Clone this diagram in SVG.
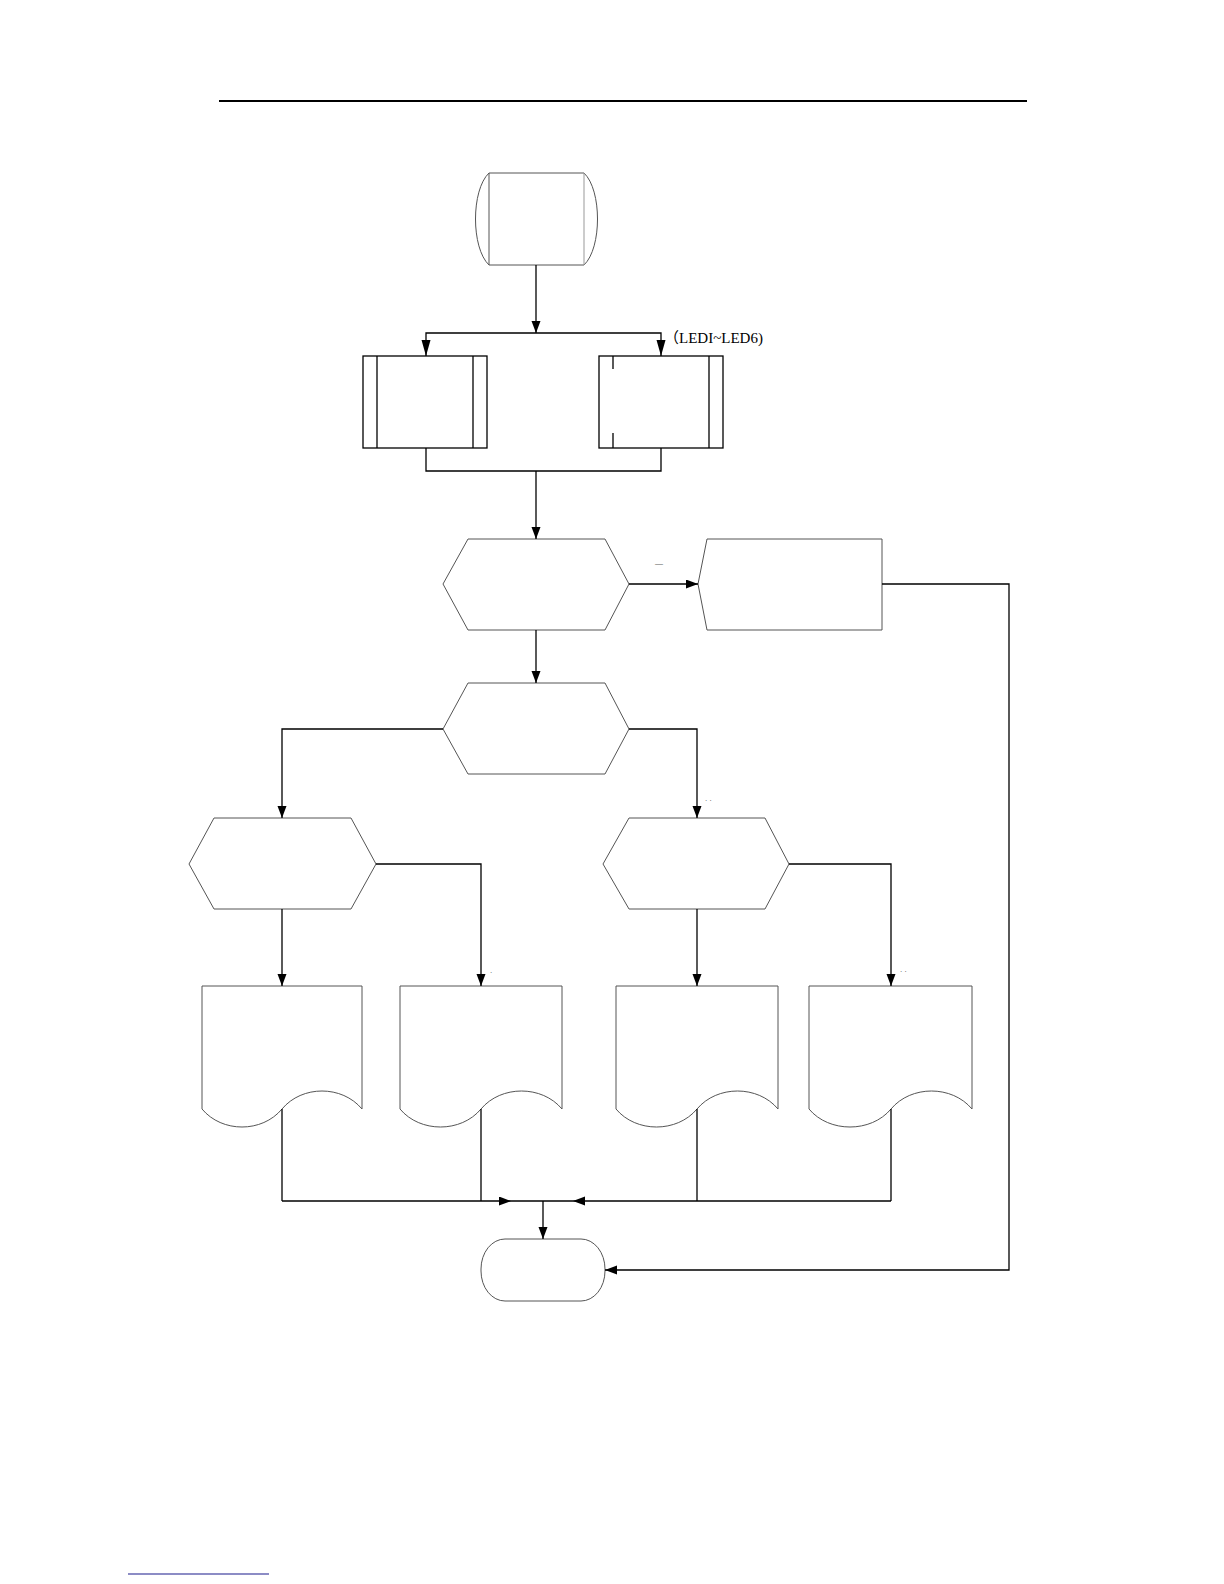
<svg xmlns="http://www.w3.org/2000/svg" width="1224" height="1584" viewBox="0 0 1224 1584">
<style>
.shape{fill:#fff;stroke:#555;stroke-width:1}
.box{fill:#fff;stroke:#000;stroke-width:1.3}
.conn{fill:none;stroke:#000;stroke-width:1.3}
.lbl{font-family:"Liberation Serif","Noto Sans CJK SC",serif;font-size:15px;fill:#000}
.cjk{font-family:"Noto Sans CJK SC","Liberation Serif",serif}
.tiny{font-family:"Liberation Sans",sans-serif;font-size:8px;fill:#555}
</style>
<defs>
<marker id="arr" markerUnits="userSpaceOnUse" markerWidth="12" markerHeight="10" refX="12" refY="4.5" orient="auto"><path d="M0,0 L12,4.5 L0,9 Z" fill="#000"/></marker>
<marker id="arrL" markerUnits="userSpaceOnUse" markerWidth="16" markerHeight="10" refX="16" refY="4.5" orient="auto"><path d="M0,0 L16,4.5 L0,9 Z" fill="#000"/></marker>
</defs>
<rect width="1224" height="1584" fill="#fff"/>
<line x1="219" y1="101" x2="1027" y2="101" stroke="#000" stroke-width="2"/>
<line x1="128" y1="1574" x2="269" y2="1574" stroke="#1a1a8c" stroke-width="1.2"/>

<g id="start">
<path class="shape" d="M489,173 H584 C602,190 602,248 584,265 H489 C471,248 471,190 489,173 Z"/>
<line x1="489" y1="173" x2="489" y2="265" stroke="#555" stroke-width="1"/>
<line x1="584" y1="173" x2="584" y2="265" stroke="#999" stroke-width="1"/>
</g>
<g id="proc-left">
<rect class="box" x="363" y="356" width="124" height="92"/>
<line x1="377" y1="356" x2="377" y2="448" stroke="#000" stroke-width="1.3"/>
<line x1="473" y1="356" x2="473" y2="448" stroke="#000" stroke-width="1.3"/>
</g>
<g id="proc-right">
<rect class="box" x="599" y="356" width="124" height="92"/>
<line x1="613" y1="356" x2="613" y2="369" stroke="#000" stroke-width="1.3"/>
<line x1="613" y1="433" x2="613" y2="448" stroke="#000" stroke-width="1.3"/>
<line x1="709" y1="356" x2="709" y2="448" stroke="#000" stroke-width="1.3"/>
</g>
<text class="lbl" x="664" y="343"><tspan class="cjk">（</tspan>LEDI~LED6)</text>
<g id="dec1"><polygon class="shape" points="443,584 468,539 605,539 629,584 605,630 468,630"/></g>
<g id="disp"><polygon class="shape" points="707,539 882,539 882,630 707,630 698,584"/></g>
<g id="dec2"><polygon class="shape" points="443,729 468,683 605,683 629,729 605,774 468,774"/></g>
<g id="dec3"><polygon class="shape" points="189,864 214,818 351,818 376,864 351,909 214,909"/></g>
<g id="dec4"><polygon class="shape" points="603,864 629,818 765,818 789,864 765,909 629,909"/></g>
<g id="doc1"><path class="shape" d="M202,986 H362 V1109 C342,1085 302,1085 282,1109 C262,1133 222,1133 202,1109 Z"/></g>
<g id="doc2"><path class="shape" d="M400,986 H562 V1109 C542,1085 501,1085 481,1109 C461,1133 420,1133 400,1109 Z"/></g>
<g id="doc3"><path class="shape" d="M616,986 H778 V1109 C758,1085 717,1085 697,1109 C677,1133 636,1133 616,1109 Z"/></g>
<g id="doc4"><path class="shape" d="M809,986 H972 V1109 C952,1085 911,1085 891,1109 C871,1133 829,1133 809,1109 Z"/></g>
<g id="end"><rect class="shape" x="481" y="1239" width="124" height="62" rx="24" ry="30"/></g>

<g id="connectors">
<path class="conn" d="M536,265 V333" marker-end="url(#arr)"/>
<path class="conn" d="M536,333 H426 V356" marker-end="url(#arrL)"/>
<path class="conn" d="M536,333 H661 V356" marker-end="url(#arrL)"/>
<path class="conn" d="M426,448 V471 H661 V448"/>
<path class="conn" d="M536,471 V539" marker-end="url(#arr)"/>
<path class="conn" d="M629,584 H698" marker-end="url(#arr)"/>
<path class="conn" d="M882,584 H1009 V1270 H605" marker-end="url(#arr)"/>
<path class="conn" d="M536,630 V683" marker-end="url(#arr)"/>
<path class="conn" d="M443,729 H282 V818" marker-end="url(#arr)"/>
<path class="conn" d="M629,729 H697 V818" marker-end="url(#arr)"/>
<path class="conn" d="M282,909 V986" marker-end="url(#arr)"/>
<path class="conn" d="M376,864 H481 V986" marker-end="url(#arr)"/>
<path class="conn" d="M697,909 V986" marker-end="url(#arr)"/>
<path class="conn" d="M789,864 H891 V986" marker-end="url(#arr)"/>
<path class="conn" d="M282,1109 V1201"/>
<path class="conn" d="M481,1109 V1201"/>
<path class="conn" d="M697,1109 V1201"/>
<path class="conn" d="M891,1109 V1201"/>
<path class="conn" d="M282,1201 H511" marker-end="url(#arr)"/>
<path class="conn" d="M891,1201 H573" marker-end="url(#arr)"/>
<path class="conn" d="M511,1201 H573"/>
<path class="conn" d="M543,1201 V1239" marker-end="url(#arr)"/>
</g>
<text class="tiny" x="655" y="566" font-size="9">—</text>
<text class="tiny" x="705" y="801">. .</text>
<text class="tiny" x="900" y="972">. .</text>
<text class="tiny" x="490" y="973">.</text>
</svg>
